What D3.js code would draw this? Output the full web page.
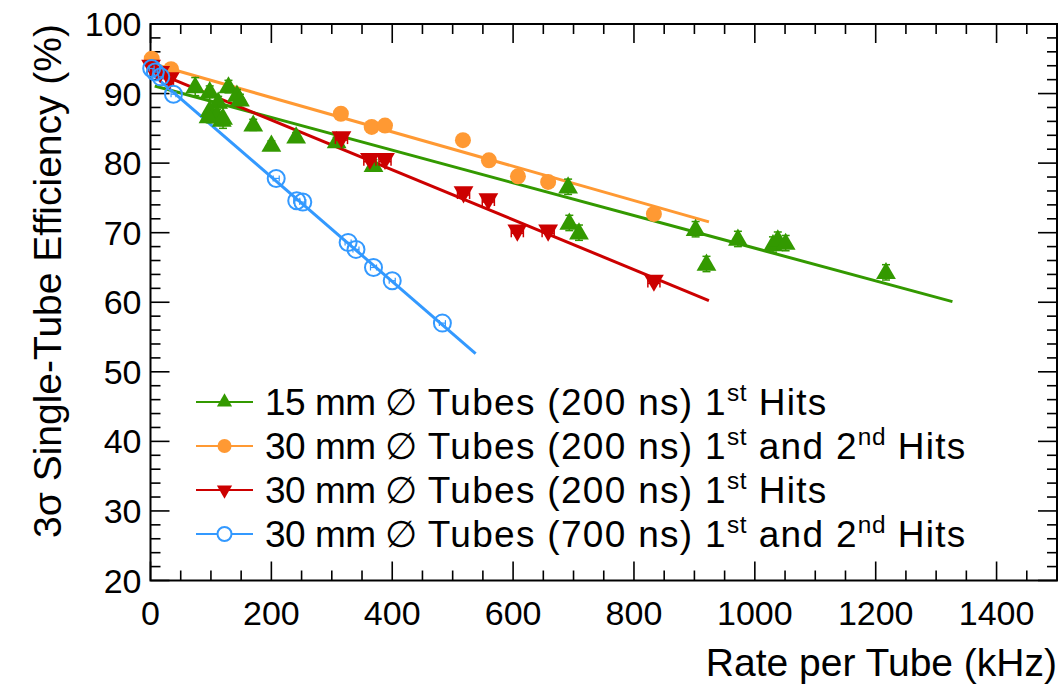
<!DOCTYPE html>
<html><head><meta charset="utf-8">
<script src="https://cdn.jsdelivr.net/npm/d3@7/dist/d3.min.js"></script>
<style>
html,body{margin:0;padding:0;background:#fff;}
text{font-family:"Liberation Sans",Arial,Helvetica,sans-serif;fill:#000;}
</style></head>
<body><svg id="c" width="1062" height="688"></svg>
<script>
// ---- data ----
const greenX = [74, 98, 129, 143, 148, 112, 98, 110, 120, 96, 118, 170, 200, 241, 308, 369, 691, 693, 709, 902, 920, 972, 1030, 1038, 1051, 1217];
const greenY = [91.0, 90.3, 91.0, 89.8, 89.1, 88.8, 87.6, 86.9, 86.5, 86.7, 86.2, 85.5, 82.6, 83.8, 83.1, 79.7, 76.6, 71.4, 70.0, 70.5, 65.5, 69.1, 68.3, 69.0, 68.5, 64.3];
const greenErr = [1.3, 0.8, 0.9, 0.8, 0.8, 0.8, 1.8, 0.8, 1.5, 0.8, 0.8, 0.8, 0.6, 0.6, 0.6, 0.8, 1.1, 1.1, 1.1, 1.1, 1.1, 1.1, 1.1, 1.1, 1.1, 1.1];
const orangeX = [2, 34, 315, 366, 388, 517, 560, 608, 658, 833];
const orangeY = [95.0, 93.5, 87.1, 85.2, 85.4, 83.3, 80.4, 78.1, 77.3, 72.7];
const redX = [1, 16, 32, 316, 363, 388, 518, 559, 607, 658, 833];
const redY = [93.9, 93.0, 92.1, 83.6, 80.5, 80.5, 75.7, 74.7, 70.2, 70.2, 63.0];
const redXErr = [6, 6, 6, 10, 10, 10, 10, 10, 10, 10, 10];
const blueX = [2, 8, 17, 38, 208, 242, 252, 327, 340, 369, 400, 483];
const blueY = [93.6, 93.1, 92.4, 89.9, 77.8, 74.6, 74.4, 68.6, 67.6, 65.0, 63.1, 57.0];
const blueXErr = [4, 4, 4, 4, 5, 5, 5, 5, 5, 5, 5, 5];
// linear fits: [xStart, xEnd, intercept, slope]
const greenFit = [7, 1327, 91.26, -0.02349];
const orangeFit = [5, 924, 94.37, -0.0247];
const redFit = [3, 924, 93.37, -0.03585];
const blueFit = [3, 538, 93.03, -0.07512];
const xTicks = [0, 200, 400, 600, 800, 1000, 1200, 1400];
const yTicks = [20, 30, 40, 50, 60, 70, 80, 90, 100];
const legendLabels = [
  ["15 mm \u2205", " Tubes (200 ns) 1", "st", " Hits"],
  ["30 mm \u2205", " Tubes (200 ns) 1", "st", " and 2", "nd", " Hits"],
  ["30 mm \u2205", " Tubes (200 ns) 1", "st", " Hits"],
  ["30 mm \u2205", " Tubes (700 ns) 1", "st", " and 2", "nd", " Hits"]
];
const xTitle = "Rate per Tube (kHz)";
const yTitle = "3\u03c3 Single-Tube Efficiency (%)";

// ---- layout ----
const L = 150.5, R = 1057, T = 24, B = 580.5;
const svg = d3.select("#c");
const x = d3.scaleLinear().domain([0, 1500]).range([L, R]);
const y = d3.scaleLinear().domain([20, 100]).range([B, T]);

const colGreen = "#339900", colOrange = "#ff9933", colRed = "#cc0000", colBlue = "#3399ff";

const g = svg.append("g");
const fsTick = 34, fsTitle = 39, fsLeg = 37;
function tickLine(x1, y1, x2, y2) {
  g.append("line").attr("x1", x1).attr("y1", y1).attr("x2", x2).attr("y2", y2)
    .attr("stroke", "#000").attr("stroke-width", 1.6);
}
x.ticks(30).forEach(v => {
  const major = v % 200 === 0;
  const len = major ? 19 : 10;
  tickLine(x(v), B, x(v), B - len);
  tickLine(x(v), T, x(v), T + len);
});
y.ticks(40).forEach(v => {
  const major = Math.abs(v % 10) < 1e-6;
  const len = major ? 19 : 10;
  tickLine(L, y(v), L + len, y(v));
  tickLine(R, y(v), R - len, y(v));
});
g.append("rect").attr("x", L).attr("y", T).attr("width", R - L).attr("height", B - T)
  .attr("fill", "none").attr("stroke", "#000").attr("stroke-width", 2);

xTicks.forEach(v => {
  g.append("text").attr("x", x(v)).attr("y", 625).attr("text-anchor", "middle")
    .attr("font-size", fsTick).text(v);
});
yTicks.forEach(v => {
  g.append("text").attr("x", L - 9).attr("y", y(v) + 12).attr("text-anchor", "end")
    .attr("font-size", fsTick).text(v);
});
g.append("text").attr("x", R).attr("y", 676).attr("text-anchor", "end").attr("font-size", fsTitle).text(xTitle);
g.append("text").attr("transform", `translate(61,${T}) rotate(-90)`).attr("text-anchor", "end")
  .attr("font-size", fsTitle).text(yTitle);

// fits
function fitLine(f, col) {
  const pts = [f[0], f[1]].map(v => [x(v), y(f[2] + f[3] * v)]);
  svg.append("path").attr("d", d3.line()(pts)).attr("stroke", col).attr("stroke-width", 3).attr("fill", "none");
}
fitLine(greenFit, colGreen);
fitLine(orangeFit, colOrange);
fitLine(redFit, colRed);
fitLine(blueFit, colBlue);

const triUp = d3.symbol().type(d3.symbolTriangle).size(170);

greenX.forEach((v, i) => {
  const cx = x(v), y1 = y(greenY[i] + greenErr[i]), y2 = y(greenY[i] - greenErr[i]);
  svg.append("line").attr("x1", cx).attr("x2", cx).attr("y1", y1).attr("y2", y2).attr("stroke", colGreen).attr("stroke-width", 1.5);
  [y1, y2].forEach(yy => svg.append("line").attr("x1", cx - 4).attr("x2", cx + 4).attr("y1", yy).attr("y2", yy).attr("stroke", colGreen).attr("stroke-width", 1.5));
});
svg.selectAll(".gm").data(greenX).enter().append("path")
  .attr("d", triUp).attr("transform", (d, i) => `translate(${x(d)},${y(greenY[i]) + 1})`).attr("fill", colGreen);

svg.selectAll(".om").data(orangeX).enter().append("circle")
  .attr("cx", d => x(d)).attr("cy", (d, i) => y(orangeY[i])).attr("r", 8).attr("fill", colOrange);

redX.forEach((v, i) => {
  const cy = y(redY[i]), x1 = x(v - redXErr[i]), x2 = x(v + redXErr[i]);
  svg.append("line").attr("x1", x1).attr("x2", x2).attr("y1", cy + 2).attr("y2", cy + 2).attr("stroke", colRed).attr("stroke-width", 1.5);
  [x1, x2].forEach(xx => svg.append("line").attr("x1", xx).attr("x2", xx).attr("y1", cy - 2).attr("y2", cy + 6).attr("stroke", colRed).attr("stroke-width", 1.5));
});
svg.selectAll(".rm").data(redX).enter().append("path")
  .attr("d", triUp).attr("transform", (d, i) => `translate(${x(d)},${y(redY[i]) - 1}) rotate(180)`).attr("fill", colRed);

blueX.forEach((v, i) => {
  const cy = y(blueY[i]), x1 = x(v - blueXErr[i]), x2 = x(v + blueXErr[i]);
  svg.append("line").attr("x1", x1).attr("x2", x2).attr("y1", cy).attr("y2", cy).attr("stroke", colBlue).attr("stroke-width", 1.2);
  [x1, x2].forEach(xx => svg.append("line").attr("x1", xx).attr("x2", xx).attr("y1", cy - 3).attr("y2", cy + 3).attr("stroke", colBlue).attr("stroke-width", 1.2));
});
svg.selectAll(".bm").data(blueX).enter().append("circle")
  .attr("cx", d => x(d)).attr("cy", (d, i) => y(blueY[i])).attr("r", 8.5)
  .attr("fill", "none").attr("stroke", colBlue).attr("stroke-width", 2);

// legend
const legCols = [colGreen, colOrange, colRed, colBlue];
const legBase = [415, 459, 503, 547];
const legTri = d3.symbol().type(d3.symbolTriangle).size(100);
legendLabels.forEach((parts, i) => {
  const ly = legBase[i] - 13, col = legCols[i];
  svg.append("line").attr("x1", 196).attr("x2", 253).attr("y1", ly).attr("y2", ly).attr("stroke", col).attr("stroke-width", 2);
  const mx = 224.5;
  if (i === 0) svg.append("path").attr("d", legTri).attr("transform", `translate(${mx},${ly})`).attr("fill", col);
  if (i === 1) svg.append("circle").attr("cx", mx).attr("cy", ly).attr("r", 7).attr("fill", col);
  if (i === 2) svg.append("path").attr("d", legTri).attr("transform", `translate(${mx},${ly}) rotate(180)`).attr("fill", col);
  if (i === 3) svg.append("circle").attr("cx", mx).attr("cy", ly).attr("r", 7).attr("fill", "#fff").attr("stroke", col).attr("stroke-width", 2);
  const t = svg.append("text").attr("x", 265).attr("y", legBase[i]).attr("font-size", fsLeg);
  t.append("tspan").attr("letter-spacing", -0.5).text(parts[0]);
  parts.slice(1).forEach((p, k) => {
    if (k % 2 === 1) {
      t.append("tspan").attr("font-size", fsLeg * 0.66).attr("letter-spacing", 0.6).attr("dy", -14).text(p);
    } else {
      const ts = t.append("tspan").attr("letter-spacing", 1.3).text(p);
      if (k > 0) ts.attr("dy", 14);
    }
  });
});
</script></body></html>
